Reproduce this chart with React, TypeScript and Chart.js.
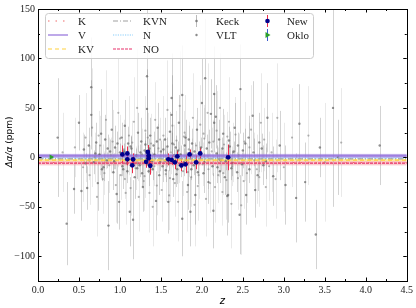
import { useEffect, useRef } from 'react';
import { Chart, registerables } from 'chart.js';

Chart.register(...registerables);

// [z, Δα/α (ppm), error]
const keckPoints: [number, number, number][] = [
  [0.24, 20, 60], [0.35, -67, 42], [0.44, -32, 25], [0.50, 35, 28], [0.53, -34, 30], [0.56, 8, 15],
  [0.60, -31, 22], [0.62, 12, 18], [0.65, 71, 50], [0.65, 43, 35], [0.68, -5, 12], [0.71, 15, 20],
  [0.73, -26, 28], [0.75, 3, 10], [0.77, 24, 45], [0.80, -10, 14], [0.82, 18, 25], [0.84, -3, 8],
  [0.86, -69, 45], [0.88, 6, 12], [0.90, 28, 30], [0.92, -15, 18], [0.94, 10, 22], [0.96, -37, 30],
  [0.99, -45, 28], [1.00, 5, 9], [1.02, 20, 15], [1.04, -12, 20], [1.06, 32, 26], [1.08, -6, 11],
  [1.10, 14, 17], [1.12, -55, 35], [1.14, 9, 13], [1.16, -63, 40], [1.18, -20, 22], [1.20, 2, 7],
  [1.22, 25, 20], [1.24, -8, 12], [1.26, 16, 24], [1.28, -30, 25], [1.30, 7, 10], [1.33, 82, 70],
  [1.33, 49, 40], [1.35, -14, 15], [1.37, 22, 18], [1.39, -4, 9], [1.41, 12, 14], [1.44, -44, 30],
  [1.46, 30, 25], [1.48, -18, 20], [1.50, 6, 11], [1.52, -9, 16], [1.55, 18, 22], [1.57, -2, 8],
  [1.59, -45, 32], [1.61, 26, 20], [1.63, 60, 45], [1.63, 43, 40], [1.65, -22, 18], [1.68, 10, 12],
  [1.70, -12, 15], [1.72, 35, 28], [1.74, 3, 9], [1.76, 63, 50], [1.76, -62, 38], [1.78, -5, 14],
  [1.80, 20, 18], [1.83, -28, 25], [1.86, -55, 35], [1.88, 14, 15], [1.90, -8, 10], [1.92, -38, 30],
  [1.94, 28, 22], [1.96, 4, 12], [2.00, 55, 45], [2.02, -16, 20], [2.04, 80, 60], [2.06, 9, 14],
  [2.08, -25, 22], [2.11, 44, 35], [2.14, -54, 38], [2.15, 64, 48], [2.15, 35, 30], [2.17, 41, 32],
  [2.19, -10, 16], [2.21, 18, 20], [2.23, -3, 11], [2.26, 24, 25], [2.28, -20, 18], [2.31, -39, 40],
  [2.32, -38, 28], [2.34, 11, 15], [2.37, -6, 13], [2.40, 30, 25], [2.43, -15, 20], [2.46, -58, 40],
  [2.47, 69, 45], [2.50, 7, 18], [2.54, -38, 30], [2.57, 20, 22], [2.62, 42, 35], [2.65, -33, 28],
  [2.70, 15, 30], [2.75, -8, 20], [2.80, 40, 35], [2.87, -19, 30], [2.95, 12, 35], [3.02, -28, 40],
  [3.15, -41, 45], [3.19, 34, 40], [3.26, -25, 40], [3.39, -78, 35], [3.44, 10, 30], [3.60, 50, 100],
  [3.66, 0, 38], [4.17, 12, 40],
  [0.58, -6, 10], [0.70, 4, 9], [0.78, -12, 12], [0.85, 9, 14], [0.93, -4, 8], [0.97, 14, 12],
  [1.03, -9, 10], [1.05, 6, 8], [1.09, -14, 12], [1.13, 11, 10], [1.17, -3, 7], [1.21, -11, 11],
  [1.25, 5, 8], [1.27, -16, 14], [1.31, 13, 12], [1.34, -7, 9], [1.36, 9, 10], [1.40, -12, 11],
  [1.42, 3, 7], [1.45, 16, 13], [1.49, -5, 9], [1.53, 8, 10], [1.56, -13, 12], [1.58, 11, 9],
  [1.60, -6, 8], [1.64, 14, 11], [1.66, 2, 6], [1.69, -17, 13], [1.71, 7, 9], [1.75, -10, 10],
  [1.79, 12, 12], [1.81, -3, 8], [1.84, 18, 14], [1.87, -12, 11], [1.91, 6, 9], [1.95, -15, 12],
  [1.99, 10, 10], [2.03, -5, 9], [2.09, 15, 13], [2.13, -9, 10], [2.18, 4, 8], [2.22, -14, 12],
  [2.25, 9, 11], [2.29, -4, 9], [2.33, 17, 14], [2.36, -11, 12], [2.39, 6, 10], [2.44, 12, 13],
  [2.49, -7, 12], [2.53, 14, 15], [2.58, -12, 14], [2.63, 5, 14], [2.68, -18, 16], [2.73, 9, 15],
  [2.78, -4, 18],
];

const vltPoints: [number, number, number][] = [
  [0.30, 5, 40], [0.55, -10, 35], [0.58, 20, 45], [0.63, -18, 30], [0.66, 30, 60], [0.69, 0, 25],
  [0.72, -40, 40], [0.76, 12, 30], [0.79, -22, 35], [0.83, 38, 50], [0.87, -8, 28], [0.91, 16, 32],
  [0.95, -28, 38], [0.98, 45, 55], [1.01, -18, 25], [1.05, 8, 30], [1.07, -36, 32], [1.11, 22, 40],
  [1.13, -31, 28], [1.17, 36, 45], [1.19, -11, 22], [1.21, 50, 60], [1.23, -40, 35], [1.27, 3, 26],
  [1.29, -24, 30], [1.31, 27, 35], [1.36, -36, 40], [1.38, 14, 30], [1.40, -50, 40], [1.43, 38, 38],
  [1.45, -28.5, 30], [1.47, 9, 25], [1.51, -33, 32], [1.53, 22, 40], [1.56, -17, 28], [1.58, 48, 50],
  [1.60, -38.5, 35], [1.62, 5, 22], [1.64, 32, 42], [1.67, -26, 34], [1.69, 17, 30], [1.71, -45, 40],
  [1.73, 52, 55], [1.77, -14, 25], [1.79, 25, 38], [1.82, -35, 40], [1.84, 8, 28], [1.87, -20, 30],
  [1.89, 40, 45], [1.91, -48, 42], [1.93, 12, 26], [1.95, -29, 35], [1.98, 33, 40], [2.01, -7, 22],
  [2.03, 19, 34], [2.05, -42, 38], [2.07, 45, 50], [2.10, -26, 30], [2.12, 6, 24], [2.16, -30, 36],
  [2.18, 27, 40], [2.20, -18, 28], [2.22, 50, 55], [2.25, -35, 34], [2.27, 13, 30], [2.30, -23, 40],
  [2.33, 36, 45], [2.36, -47, 45], [2.38, 5, 30], [2.41, 23, 38], [2.44, -21, 32], [2.48, -48.5, 50],
  [2.52, 16, 40], [2.55, -16, 30], [2.60, 28, 45], [2.67, -12, 35], [2.72, 35, 50], [2.78, -30, 40],
  [2.85, 5, 40], [2.92, 40, 55], [3.00, -10, 45], [3.10, 20, 50], [3.30, 22, 50], [3.50, -5, 60],
  [3.70, 15, 55],
  [0.45, 10, 30], [0.62, -3, 20], [0.74, 22, 25], [0.81, -16, 22], [0.89, 2, 18], [1.00, 19, 24],
  [1.06, -22, 20], [1.15, 15, 22], [1.22, -6, 18], [1.30, -19, 22], [1.34, 20, 25], [1.42, -9, 20],
  [1.49, 18, 22], [1.55, -4, 16], [1.61, -21, 24], [1.66, 13, 20], [1.72, -8, 18], [1.78, 21, 26],
  [1.83, -15, 20], [1.88, 3, 16], [1.96, -18, 24], [2.02, 24, 26], [2.08, -12, 20], [2.14, 16, 22],
  [2.21, -2, 18], [2.26, -16, 22], [2.31, 21, 25], [2.37, -9, 20], [2.45, 2, 22], [2.51, -24, 28],
  [2.58, 10, 25], [2.64, -3, 28], [2.70, -20, 30], [2.76, 18, 32], [2.82, -9, 35], [2.90, -22, 40],
];

const newPoints: [number, number, number][] = [
  [1.03, 3, 9], [1.09, 4, 7], [1.09, -2, 6], [1.15, -8, 8], [1.16, -2, 6], [1.34, 5.5, 7],
  [1.35, 2, 5], [1.35, -1, 9], [1.32, -4.5, 6], [1.37, -8.5, 9], [1.59, -2, 6], [1.63, -2.5, 5],
  [1.67, -5, 7], [1.70, 1, 6], [1.75, -8, 6], [1.80, -7, 9], [1.85, 3, 5], [1.93, -5, 7],
  [1.98, 4, 6], [2.32, 0, 13],
];

const okloPoints: [number, number, number][] = [[0.16, 0.3, 1]];

const refNames = ['K', 'V', 'KV', 'KVN', 'N', 'NO'];
const refValues = [-5.2, 1.5, -2.8, -1.5, -0.7, -5.8];
const refErrors = [0, 2, 1.2, 0, 0, 2.3];
const refColors = ['#f06a6a', '#9370db', '#ffd23f', '#a0a0a0', '#87cefa', '#e8306a'];
const refBandColors = ['', 'rgba(147,112,219,0.6)', 'rgba(255,220,60,0.45)', '', '', 'rgba(240,110,120,0.35)'];
const refDashes = [[1.5, 6], [], [4, 3], [5, 2, 1, 2], [1.2, 1.2], [3, 1]];

const xTickLabels = [0, 0.5, 1, 1.5, 2, 2.5, 3, 3.5, 4, 4.5];
const yTickLabels = [-100, -50, 0, 50, 100, 150];

const SERIF = '"Liberation Serif", "Times New Roman", serif';
const SANS = '"DejaVu Sans", sans-serif';

const toXY = (pts: [number, number, number][]) => pts.map(([z, v]) => ({ x: z, y: v }));

const drawPlugin = {
  id: 'customDraw',
  beforeDatasetsDraw(chart: any) {
    const { ctx, chartArea: a, scales } = chart;
    const x = scales.x, y = scales.y;
    ctx.save();
    ctx.beginPath();
    ctx.rect(a.left, a.top, a.right - a.left, a.bottom - a.top);
    ctx.clip();
    const bars = (pts: [number, number, number][], color: string) => {
      ctx.strokeStyle = color;
      ctx.lineWidth = 1;
      pts.forEach(([z, v, e]) => {
        const px = Math.round(x.getPixelForValue(z)) + 0.5;
        ctx.beginPath();
        ctx.moveTo(px, y.getPixelForValue(v - e));
        ctx.lineTo(px, y.getPixelForValue(v + e));
        ctx.stroke();
      });
    };
    bars(vltPoints, 'rgba(175,175,175,0.28)');
    bars(keckPoints, 'rgba(120,120,120,0.33)');
    refValues.forEach((v, i) => {
      if (refErrors[i] > 0) {
        const t = y.getPixelForValue(v + refErrors[i]);
        const b = y.getPixelForValue(v - refErrors[i]);
        ctx.fillStyle = refBandColors[i];
        ctx.fillRect(a.left, t, a.right - a.left, b - t);
      }
    });
    bars(newPoints, '#ee2a4a');
    bars(okloPoints, '#3a5ad0');
    ctx.restore();
  },
  afterDraw(chart: any) {
    const { ctx, chartArea: a, scales } = chart;
    const x = scales.x, y = scales.y;
    ctx.save();
    ctx.strokeStyle = '#000';
    ctx.lineWidth = 1;
    ctx.strokeRect(Math.round(a.left) + 0.5, Math.round(a.top) + 0.5, Math.round(a.right - a.left), Math.round(a.bottom - a.top));
    ctx.beginPath();
    for (let i = 0; i <= 18; i++) {
      const v = i * 0.25;
      const px = Math.round(x.getPixelForValue(v)) + 0.5;
      const len = i % 2 === 0 ? 3.5 : 2;
      ctx.moveTo(px, a.bottom); ctx.lineTo(px, a.bottom - len);
      ctx.moveTo(px, a.top); ctx.lineTo(px, a.top + len);
    }
    for (let i = 0; i <= 11; i++) {
      const v = -125 + i * 25;
      const py = Math.round(y.getPixelForValue(v)) + 0.5;
      const len = v % 50 === 0 ? 3.5 : 2;
      ctx.moveTo(a.left, py); ctx.lineTo(a.left + len, py);
      ctx.moveTo(a.right, py); ctx.lineTo(a.right - len, py);
    }
    ctx.stroke();

    ctx.fillStyle = '#000';
    ctx.textBaseline = 'middle';
    ctx.font = `italic 10px ${SANS}`;
    ctx.textAlign = 'center';
    ctx.fillText('z', (a.left + a.right) / 2, 301);
    ctx.save();
    ctx.translate(10, (a.top + a.bottom) / 2 - 3);
    ctx.rotate(-Math.PI / 2);
    const p1 = 'Δα/α', p2 = ' (ppm)';
    ctx.font = `italic 9px ${SANS}`;
    const w1 = ctx.measureText(p1).width;
    ctx.font = `9px ${SANS}`;
    const w2 = ctx.measureText(p2).width;
    const start = -(w1 + w2) / 2;
    ctx.textAlign = 'left';
    ctx.font = `italic 9px ${SANS}`;
    ctx.fillText(p1, start, 0);
    ctx.font = `9px ${SANS}`;
    ctx.fillText(p2, start + w1, 0);
    ctx.restore();

    // legend
    const lx = 45.5, ly = 13.5, lw = 268, lh = 45;
    ctx.fillStyle = 'rgba(255,255,255,0.85)';
    ctx.strokeStyle = '#cccccc';
    ctx.lineWidth = 1;
    ctx.beginPath();
    (ctx as any).roundRect(lx, ly, lw, lh, 3);
    ctx.fill();
    ctx.stroke();
    const rows = [21, 35, 49];
    const colLine = [[48, 68, 78], [113, 133, 143]];
    ctx.font = `11px ${SERIF}`;
    ctx.textAlign = 'left';
    ctx.textBaseline = 'middle';
    refNames.forEach((name, i) => {
      const c = Math.floor(i / 3), r = i % 3;
      const [x0, x1, tx] = colLine[c];
      const yy = rows[r];
      ctx.save();
      ctx.strokeStyle = refColors[i];
      ctx.lineWidth = 1.2;
      ctx.setLineDash(refDashes[i]);
      ctx.beginPath();
      ctx.moveTo(x0, yy);
      ctx.lineTo(x1, yy);
      ctx.stroke();
      ctx.restore();
      ctx.fillStyle = '#222';
      ctx.fillText(name, tx, rows[r] + 1);
    });
    ctx.lineWidth = 1;
    ctx.strokeStyle = 'rgba(120,120,120,0.5)';
    ctx.beginPath(); ctx.moveTo(196.5, rows[0] - 6); ctx.lineTo(196.5, rows[0] + 6); ctx.stroke();
    ctx.fillStyle = 'rgba(110,110,110,0.8)';
    ctx.beginPath(); ctx.arc(196.5, rows[0], 1.3, 0, Math.PI * 2); ctx.fill();
    ctx.beginPath(); ctx.arc(196.5, rows[1], 1.2, 0, Math.PI * 2); ctx.fill();
    ctx.fillStyle = '#222';
    ctx.fillText('Keck', 216, rows[0] + 1);
    ctx.fillText('VLT', 216, rows[1] + 1);
    ctx.strokeStyle = '#ee2a4a';
    ctx.beginPath(); ctx.moveTo(267.5, rows[0] - 6); ctx.lineTo(267.5, rows[0] + 6); ctx.stroke();
    ctx.fillStyle = '#00008b';
    ctx.beginPath(); ctx.arc(267.5, rows[0], 2.3, 0, Math.PI * 2); ctx.fill();
    ctx.strokeStyle = '#3a5ad0';
    ctx.beginPath(); ctx.moveTo(267.5, rows[1] - 6); ctx.lineTo(267.5, rows[1] + 6); ctx.stroke();
    ctx.fillStyle = '#2ca02c';
    ctx.beginPath(); ctx.moveTo(270.5, rows[1]); ctx.lineTo(265.5, rows[1] - 3); ctx.lineTo(265.5, rows[1] + 3); ctx.closePath(); ctx.fill();
    ctx.fillStyle = '#222';
    ctx.fillText('New', 287, rows[0] + 1);
    ctx.fillText('Oklo', 287, rows[1] + 1);
    ctx.restore();
  },
};

export default function App() {
  const ref = useRef<HTMLCanvasElement | null>(null);
  useEffect(() => {
    if (!ref.current) return;
    const lineSets = refNames.map((name, i) => ({
      type: 'line' as const,
      label: name,
      data: [{ x: 0, y: refValues[i] }, { x: 4.5, y: refValues[i] }],
      borderColor: refColors[i],
      borderWidth: 1.2,
      borderDash: refDashes[i],
      pointRadius: 0,
      order: 1,
    }));
    const chart = new Chart(ref.current, {
      type: 'scatter',
      data: {
        datasets: [
          { label: 'New', data: toXY(newPoints), pointRadius: 2.4, pointBackgroundColor: '#00008b', pointBorderWidth: 0, order: 0 },
          { label: 'Oklo', data: toXY(okloPoints), pointStyle: 'triangle', rotation: 90, pointRadius: 3, pointBackgroundColor: '#2ca02c', pointBorderWidth: 0, order: 0 },
          ...lineSets,
          { label: 'Keck', data: toXY(keckPoints), pointRadius: 1.2, pointBackgroundColor: 'rgba(100,100,100,0.7)', pointBorderWidth: 0, order: 2 },
          { label: 'VLT', data: toXY(vltPoints), pointRadius: 1.1, pointBackgroundColor: 'rgba(130,130,130,0.6)', pointBorderWidth: 0, order: 2 },
        ] as any,
      },
      options: {
        animation: false,
        responsive: false,
        devicePixelRatio: 1,
        layout: { padding: { top: 6, right: 8, left: 0, bottom: 0 } },
        plugins: { legend: { display: false }, tooltip: { enabled: false } },
        scales: {
          x: {
            type: 'linear', min: 0, max: 4.5,
            grid: { display: false, drawTicks: false },
            border: { display: false },
            afterBuildTicks: (s: any) => { s.ticks = xTickLabels.map((v) => ({ value: v })); },
            afterFit: (s: any) => { s.height = 27; },
            ticks: { padding: 3, maxRotation: 0, autoSkip: false, color: '#222', font: { family: SERIF, size: 10 }, callback: (v: any) => Number(v).toFixed(1) },
          },
          y: {
            type: 'linear', min: -125, max: 150,
            grid: { display: false, drawTicks: false },
            border: { display: false },
            afterBuildTicks: (s: any) => { s.ticks = yTickLabels.map((v) => ({ value: v })); },
            afterFit: (s: any) => { s.width = 38; },
            ticks: { padding: 3, autoSkip: false, color: '#222', font: { family: SERIF, size: 10 }, callback: (v: any) => (Number(v) < 0 ? '\u2212' + Math.abs(Number(v)) : String(v)) },
          },
        },
      } as any,
      plugins: [drawPlugin],
    });
    return () => chart.destroy();
  }, []);
  return (
    <div style={{ position: 'fixed', left: 0, top: 0, width: 416, height: 308, background: '#fff' }}>
      <canvas ref={ref} width={416} height={308} />
    </div>
  );
}
